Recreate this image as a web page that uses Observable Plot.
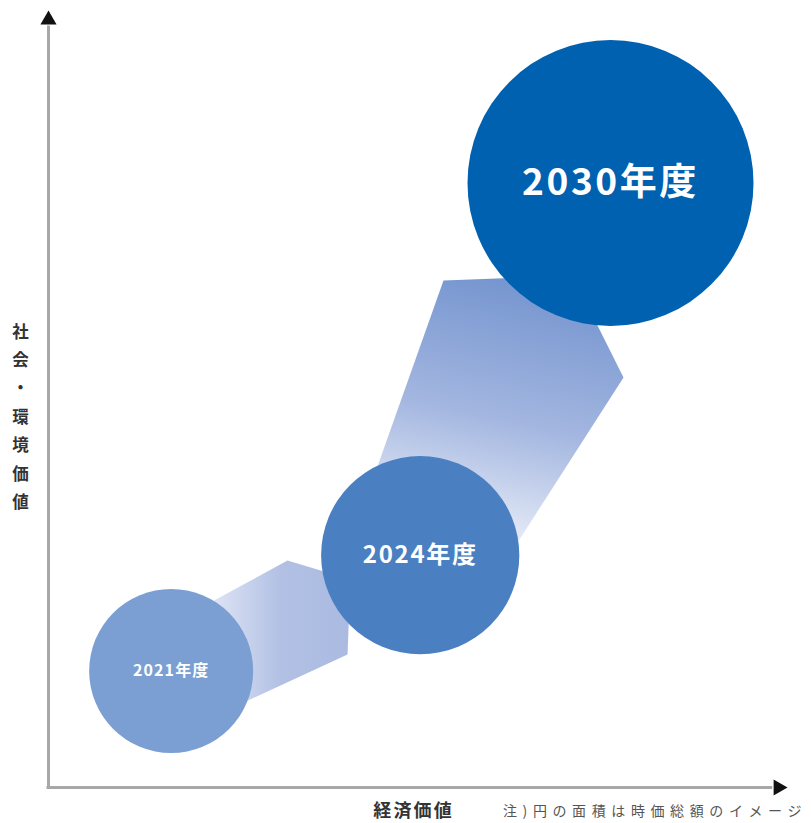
<!DOCTYPE html>
<html>
<head>
<meta charset="utf-8">
<script src="https://cdn.jsdelivr.net/npm/d3@7"></script>
<script src="https://cdn.jsdelivr.net/npm/@observablehq/plot@0.6"></script>
<style>
  html, body { margin: 0; padding: 0; background: #fff; overflow: hidden; }
</style>
</head>
<body>
<div id="chart"></div>
<script>
// Circles: position in (economic value, social/environmental value) space, 0–100
const years  = ["2021年度", "2024年度", "2030年度"];
const econ   = [16.6, 50.3, 76.05];
const social = [15.0, 29.9, 77.8];
const marketCap = [100, 146, 304];          // relative circle area (market cap image)
const circleColors = ["#7b9fd3", "#4a7fc1", "#0061b0"];
const labelSizes = [16, 24, 37];

// Transition arrow shapes
const lowerArrowX = [19.89, 32.34, 40.87, 40.46, 20.57];
const lowerArrowY = [22.78, 29.21, 26.77, 17.12, 8.37];
const upperArrowX = [53.45, 63.87, 73.34, 77.81, 62.52, 43.84];
const upperArrowY = [65.25, 65.64, 61.26, 52.77, 30.12, 39.51];

// Axis texts
const yAxisLabel = "社会・環境価値";
const xAxisLabel = "経済価値";
const noteText = "注)円の面積は時価総額のイメージ";

const circles = years.map((label, i) => ({
  label, x: econ[i], y: social[i], size: marketCap[i], color: circleColors[i], fs: labelSizes[i]
}));
const lowerArrow = lowerArrowX.map((x, i) => ({x, y: lowerArrowY[i]}));
const upperArrow = upperArrowX.map((x, i) => ({x, y: upperArrowY[i]}));

const plot = Plot.plot({
  width: 811,
  height: 823,
  marginLeft: 48,
  marginRight: 24,
  marginTop: 10,
  marginBottom: 36,
  style: {fontFamily: "'Noto Sans CJK JP', 'Noto Sans', sans-serif", background: "#fff", overflow: "visible"},
  x: {domain: [0, 100], axis: null},
  y: {domain: [0, 100], axis: null},
  r: {type: "sqrt", domain: [0, 304], range: [0, 143]},
  color: {type: "identity"},
  marks: [
    // arrow shapes
    Plot.line(lowerArrow, {x: "x", y: "y", fill: "url(#gradLow)", stroke: "none"}),
    Plot.line(upperArrow, {x: "x", y: "y", fill: "url(#gradUp)", stroke: "none"}),
    // circles
    Plot.dot(circles, {x: "x", y: "y", r: "size", fill: "color", stroke: "none"}),
    Plot.text(circles, {x: "x", y: "y", text: "label", fill: "white", fontSize: d => d.fs, fontWeight: "bold"}),
    // axes
    Plot.ruleX([0], {y1: 0, y2: 98, stroke: "#a8a8a8", strokeWidth: 3}),
    Plot.ruleY([0], {x1: -0.2, x2: 98, stroke: "#a8a8a8", strokeWidth: 3}),
    Plot.dot([{x: 0, y: 98.8, rot: 0}, {x: 98.75, y: 0, rot: 90}],
      {x: "x", y: "y", symbol: "triangle", r: 6, fill: "#111", stroke: "none", rotate: "rot"}),
    // axis labels
    Plot.text([yAxisLabel], {x: -3.8, y: 48.1, text: d => d.split("").join("\n"), lineHeight: 1.72,
      fontSize: 16.5, fontWeight: "bold", fill: "#333"}),
    Plot.text([xAxisLabel], {x: 49.4, y: -3.1, text: d => d, fontSize: 18, fontWeight: "bold", fill: "#333"}),
    Plot.text([noteText], {x: 61.5, y: -3.1, text: d => d, fontSize: 14, fill: "#555", textAnchor: "start"})
  ]
});

d3.select(plot).insert("defs", ":first-child").html(`
  <linearGradient id="gradLow" x1="0" y1="0" x2="1" y2="0">
    <stop offset="0" stop-color="#e8edf8"/>
    <stop offset="0.55" stop-color="#b2c0e4"/>
    <stop offset="1" stop-color="#abbae1"/>
  </linearGradient>
  <linearGradient id="gradUp" x1="0.55" y1="0" x2="0.35" y2="1">
    <stop offset="0" stop-color="#7595cf"/>
    <stop offset="0.5" stop-color="#a3b6e0"/>
    <stop offset="1" stop-color="#f2f5fb"/>
  </linearGradient>
`);

const textGroups = d3.select(plot).selectAll('g[aria-label="text"]').nodes();
const spacings = ["0.07em", "0", "0.12em", "0.4em"];
textGroups.forEach((g, i) => d3.select(g).selectAll("text").style("letter-spacing", spacings[i] || "0"));

document.getElementById("chart").appendChild(plot);
</script>
</body>
</html>
